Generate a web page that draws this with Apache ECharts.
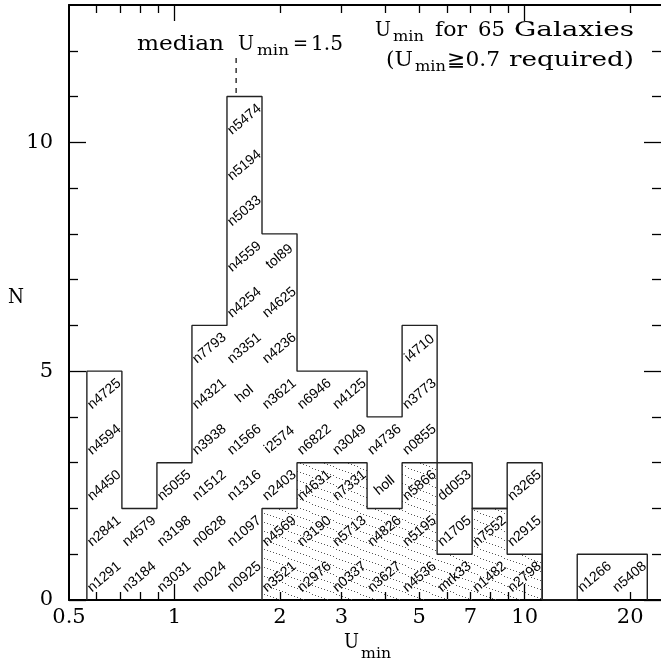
<!DOCTYPE html>
<html><head><meta charset="utf-8">
<script src="https://cdn.jsdelivr.net/npm/echarts@6/dist/echarts.min.js"></script>
<style>html,body{margin:0;padding:0;background:#fff}#c{width:661px;height:666px}</style>
</head><body><div id="c"></div>
<script>
// ---- data ----
const binLogCenters = [-0.2,-0.1,0.0,0.1,0.2,0.3,0.4,0.5,0.6,0.7,0.8,0.9,1.0,1.1,1.2,1.3];
const binHalfWidthDex = 0.05;
const galaxyNames = [
  ['n1291','n2841','n4450','n4594','n4725'],
  ['n3184','n4579'],
  ['n3031','n3198','n5055'],
  ['n0024','n0628','n1512','n3938','n4321','n7793'],
  ['n0925','n1097','n1316','n1566','hol','n3351','n4254','n4559','n5033','n5194','n5474'],
  ['n3521','n4569','n2403','i2574','n3621','n4236','n4625','tol89'],
  ['n2976','n3190','n4631','n6822','n6946'],
  ['n0337','n5713','n7331','n3049','n4125'],
  ['n3627','n4826','holl','n4736'],
  ['n4536','n5195','n5866','n0855','n3773','i4710'],
  ['mrk33','n1705','dd053'],
  ['n1482','n7552'],
  ['n2798','n2915','n3265'],
  [],
  ['n1266'],
  ['n5408']
];
const hatchedCounts = [0,0,0,0,0,2,3,3,2,3,1,2,1,0,0,0];
const xTickLabels = [0.5,1,2,3,5,7,10,20];
const xMinorTicks = [0.6,0.7,0.8,0.9,2,3,4,5,6,7,8,9,20];
const xMajorTicks = [1,10];
const yTickLabels = [0,5,10];
const yMinorTicks = [1,2,3,4,6,7,8,9,11,12];
const medianU = 1.5;
const medianMarkN = [11.08, 11.85];
const xMin = 0.5, xMax = 24.5, yMin = 0, yMax = 13;

const totalCounts = galaxyNames.map(a => a.length);

// ---- annotation text: words with their left/right extent (px) and baseline ----
const annotations = [
  {t:'median', x0:137, x1:224, b:52, fs:20},
  {t:'U', x0:238, x1:254, b:52, fs:20},
  {t:'min', x0:257, x1:289, b:57, fs:15},
  {t:'=', x0:293, x1:308, b:52, fs:20},
  {t:'1.5', x0:311, x1:343, b:52, fs:20},
  {t:'U', x0:375, x1:391, b:38, fs:20},
  {t:'min', x0:393, x1:424, b:43, fs:15},
  {t:'for', x0:435, x1:467, b:38, fs:20},
  {t:'65', x0:478, x1:505, b:38, fs:20},
  {t:'Galaxies', x0:514, x1:634, b:38, fs:20},
  {t:'(U', x0:386, x1:413, b:68, fs:20},
  {t:'min', x0:415, x1:446, b:73, fs:15},
  {t:'\u22670.7', x0:447, x1:500, b:68, fs:20},
  {t:'required)', x0:509, x1:634, b:68, fs:20},
  {t:'U', x0:344, x1:359, b:650, fs:20},
  {t:'min', x0:361, x1:391, b:660, fs:15},
  {t:'N', x0:8, x1:24, b:305, fs:20}
];

const SERIF = "'DejaVu Serif', 'Liberation Serif', serif";
const SANS = "'Liberation Sans', Arial, sans-serif";

const measureCtx = document.createElement('canvas').getContext('2d');
function textWidth(t, fs){ measureCtx.font = fs + 'px ' + SERIF; return measureCtx.measureText(t).width; }

function edges(i){ return [Math.pow(10, binLogCenters[i]-binHalfWidthDex), Math.pow(10, binLogCenters[i]+binHalfWidthDex)]; }

function stepLine(counts){
  const pts = [];
  counts.forEach((h,i) => {
    const e = edges(i);
    if (i === 0) pts.push([e[0], 0]);
    pts.push([e[0], h]); pts.push([e[1], h]);
    if (i === counts.length-1) pts.push([e[1], 0]);
  });
  return pts;
}
function hatchedStep(counts){
  const pts = [];
  const first = counts.findIndex(v => v > 0);
  const last = counts.length - 1 - counts.slice().reverse().findIndex(v => v > 0);
  for (let i = first; i <= last; i++){
    const e = edges(i);
    if (i === first) pts.push([e[0], 0]);
    pts.push([e[0], counts[i]]); pts.push([e[1], counts[i]]);
    if (i === last) pts.push([e[1], 0]);
  }
  return pts;
}

function makeHatch(){
  const c = document.createElement('canvas');
  c.width = 24; c.height = 9;
  const g = c.getContext('2d');
  g.fillStyle = '#555';
  for (let x = 0; x < 24; x += 3){
    const y = Math.floor(x*9/24) % 9;
    g.fillRect(x, y, 1, 1);
  }
  return c;
}
const hatchCanvas = makeHatch();

const labelData = [];
galaxyNames.forEach((names, i) => names.forEach((n, j) => {
  labelData.push({value: [Math.pow(10, binLogCenters[i]), j + 0.5], name: n});
}));

const hatchData = binLogCenters.map((c, i) => { const e = edges(i); return [e[0], e[1], hatchedCounts[i]]; });

function xAx(pos, ticks, len, labels, showLine){
  return {
    type:'log', logBase:10, min:xMin, max:xMax, position:pos,
    axisLine:{show:showLine, onZero:false, lineStyle:{color:'#000', width:2}},
    axisTick:{show:true, inside:true, length:len, customValues:ticks, lineStyle:{color:'#000', width:1.3}},
    axisLabel: labels ? {show:true, customValues:labels, fontFamily:SERIF, fontSize:21, color:'#000', margin:7,
      formatter: v => String(+(+v).toPrecision(3))} : {show:false},
    splitLine:{show:false}, minorTick:{show:false}, minorSplitLine:{show:false}
  };
}
function yAx(pos, ticks, len, labels, showLine){
  return {
    type:'value', min:yMin, max:yMax, interval:1, position:pos,
    axisLine:{show:showLine, onZero:false, lineStyle:{color:'#000', width:2}},
    axisTick:{show:true, inside:true, length:len, customValues:ticks, lineStyle:{color:'#000', width:1.3}},
    axisLabel: labels ? {show:true, customValues:labels, fontFamily:SERIF, fontSize:21, color:'#000', margin:16} : {show:false},
    splitLine:{show:false}
  };
}

const chart = echarts.init(document.getElementById('c'), null, {renderer:'canvas'});
chart.setOption({
  animation:false,
  backgroundColor:'#fff',
  grid:{left:69, top:5, width:595, height:595, containLabel:false},
  xAxis:[
    xAx('bottom', xMinorTicks, 8, xTickLabels, true),
    xAx('bottom', xMajorTicks, 16, null, false),
    xAx('top', xMinorTicks, 8, null, true),
    xAx('top', xMajorTicks, 16, null, false)
  ],
  yAxis:[
    yAx('left', yMinorTicks, 9, yTickLabels, true),
    yAx('left', yTickLabels, 17, null, false),
    yAx('right', yMinorTicks, 9, null, false),
    yAx('right', yTickLabels, 17, null, false)
  ],
  series:[
    {
      type:'custom', name:'hatched', z:2, silent:true,
      data: hatchData,
      encode:{x:[0,1], y:2},
      renderItem:(params, api) => {
        const h = api.value(2);
        if (!h) return null;
        const p0 = api.coord([api.value(0), 0]);
        const p1 = api.coord([api.value(1), h]);
        return {type:'rect', shape:{x:p0[0], y:p1[1], width:p1[0]-p0[0], height:p0[1]-p1[1]},
          style:{fill:{image:hatchCanvas, repeat:'repeat'}, stroke:null}};
      }
    },
    {
      type:'line', name:'all', z:3, silent:true, showSymbol:false, symbol:'none',
      data: stepLine(totalCounts),
      lineStyle:{color:'#222', width:1.4}
    },
    {
      type:'line', name:'hatchedOutline', z:3, silent:true, showSymbol:false, symbol:'none',
      data: hatchedStep(hatchedCounts),
      lineStyle:{color:'#222', width:1.4}
    },
    {
      type:'line', name:'median', z:3, silent:true, showSymbol:false, symbol:'none',
      data: [[medianU, medianMarkN[0]], [medianU, medianMarkN[1]]],
      lineStyle:{color:'#000', width:1.2, type:[5,5]}
    },
    {
      type:'custom', name:'labels', z:4, silent:true,
      data: labelData,
      encode:{x:0, y:1},
      renderItem:(params, api) => {
        const p = api.coord([api.value(0), api.value(1)]);
        return {type:'text', x:p[0], y:p[1], rotation:40*Math.PI/180,
          style:{text: labelData[params.dataIndex].name, fontFamily:SANS, fontSize:14, fill:'#000',
            align:'center', verticalAlign:'middle'}};
      }
    }
  ],
  graphic: annotations.map(a => ({
    type:'text', x:a.x0, y:a.b - 0.36*a.fs, silent:true,
    scaleX: (a.x1 - a.x0) / textWidth(a.t, a.fs),
    style:{text:a.t, fontFamily:SERIF, fontSize:a.fs, fill:'#000', align:'left', verticalAlign:'middle'}
  }))
});
</script></body></html>
